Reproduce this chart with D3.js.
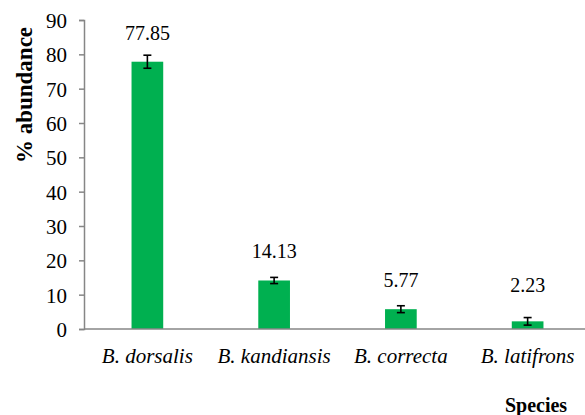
<!DOCTYPE html>
<html>
<head>
<meta charset="utf-8">
<script src="https://cdn.jsdelivr.net/npm/d3@7"></script>
</head>
<body style="margin:0">
<script>
// chart data
var species = ["B. dorsalis", "B. kandiansis", "B. correcta", "B. latifrons"];
var abundance = [77.85, 14.13, 5.77, 2.23];
var errors = [1.9, 0.9, 1.0, 1.1];
var yTicks = [0, 10, 20, 30, 40, 50, 60, 70, 80, 90];

var W = 585, H = 415;
var m = { left: 84, right: 591, top: 20, bottom: 329 };
var fontFam = "'Liberation Serif'";

var svg = d3.select("body").append("svg")
    .attr("width", W)
    .attr("height", H);

var x = d3.scaleBand()
    .domain(species)
    .range([m.left, m.right])
    .paddingInner(0.75)
    .paddingOuter(0.375);

var y = d3.scaleLinear()
    .domain([0, 90])
    .range([m.bottom, m.top]);

// y axis
var yAxis = svg.append("g")
    .attr("transform", "translate(" + m.left + ",0)")
    .call(d3.axisLeft(y).tickValues(yTicks).tickSize(5).tickPadding(12));
yAxis.select(".domain").attr("stroke", "#868686").attr("stroke-width", 1.5);
yAxis.selectAll(".tick line").attr("stroke", "#868686").attr("stroke-width", 1.5);
yAxis.selectAll(".tick text")
    .style("font-family", fontFam)
    .style("font-size", "21px")
    .attr("dy", "0.36em")
    .attr("fill", "#000");

// bars
svg.selectAll(".bar")
    .data(abundance)
    .enter().append("rect")
    .attr("class", "bar")
    .attr("x", function(d, i) { return x(species[i]); })
    .attr("y", function(d) { return y(d); })
    .attr("width", x.bandwidth())
    .attr("height", function(d) { return y(0) - y(d); })
    .attr("fill", "#00b050");

// x axis line
svg.append("line")
    .attr("x1", m.left).attr("x2", W)
    .attr("y1", y(0)).attr("y2", y(0))
    .attr("stroke", "#868686")
    .attr("stroke-width", 1.5);

// error bars
var cx = function(i) { return x(species[i]) + x.bandwidth() / 2; };
var eb = svg.selectAll(".err")
    .data(abundance)
    .enter().append("g")
    .attr("class", "err")
    .attr("stroke", "#000")
    .attr("stroke-width", 1.6);
eb.append("line")
    .attr("x1", function(d, i) { return cx(i); })
    .attr("x2", function(d, i) { return cx(i); })
    .attr("y1", function(d, i) { return y(d + errors[i]); })
    .attr("y2", function(d, i) { return y(d - errors[i]); });
eb.append("line")
    .attr("x1", function(d, i) { return cx(i) - 4; })
    .attr("x2", function(d, i) { return cx(i) + 4; })
    .attr("y1", function(d, i) { return y(d + errors[i]); })
    .attr("y2", function(d, i) { return y(d + errors[i]); });
eb.append("line")
    .attr("x1", function(d, i) { return cx(i) - 4; })
    .attr("x2", function(d, i) { return cx(i) + 4; })
    .attr("y1", function(d, i) { return y(d - errors[i]); })
    .attr("y2", function(d, i) { return y(d - errors[i]); });

// value labels
svg.selectAll(".val")
    .data(abundance)
    .enter().append("text")
    .attr("class", "val")
    .attr("x", function(d, i) { return cx(i); })
    .attr("y", function(d) { return Math.min(y(d) - 22, y(10.9)); })
    .attr("text-anchor", "middle")
    .style("font-family", fontFam)
    .style("font-size", "20px")
    .text(function(d) { return d.toFixed(2); });

// category labels
svg.selectAll(".cat")
    .data(species)
    .enter().append("text")
    .attr("class", "cat")
    .attr("x", function(d) { return x(d) + x.bandwidth() / 2; })
    .attr("y", 363)
    .attr("text-anchor", "middle")
    .style("font-family", fontFam)
    .style("font-size", "21px")
    .style("font-style", "italic")
    .text(function(d) { return d; });

// axis titles
svg.append("text")
    .attr("transform", "translate(32,95) rotate(-90)")
    .attr("text-anchor", "middle")
    .style("font-family", fontFam)
    .style("font-size", "23px")
    .style("font-weight", "bold")
    .text("% abundance");

svg.append("text")
    .attr("x", 536)
    .attr("y", 412)
    .attr("text-anchor", "middle")
    .style("font-family", fontFam)
    .style("font-size", "20px")
    .style("font-weight", "bold")
    .text("Species");
</script>
</body>
</html>
